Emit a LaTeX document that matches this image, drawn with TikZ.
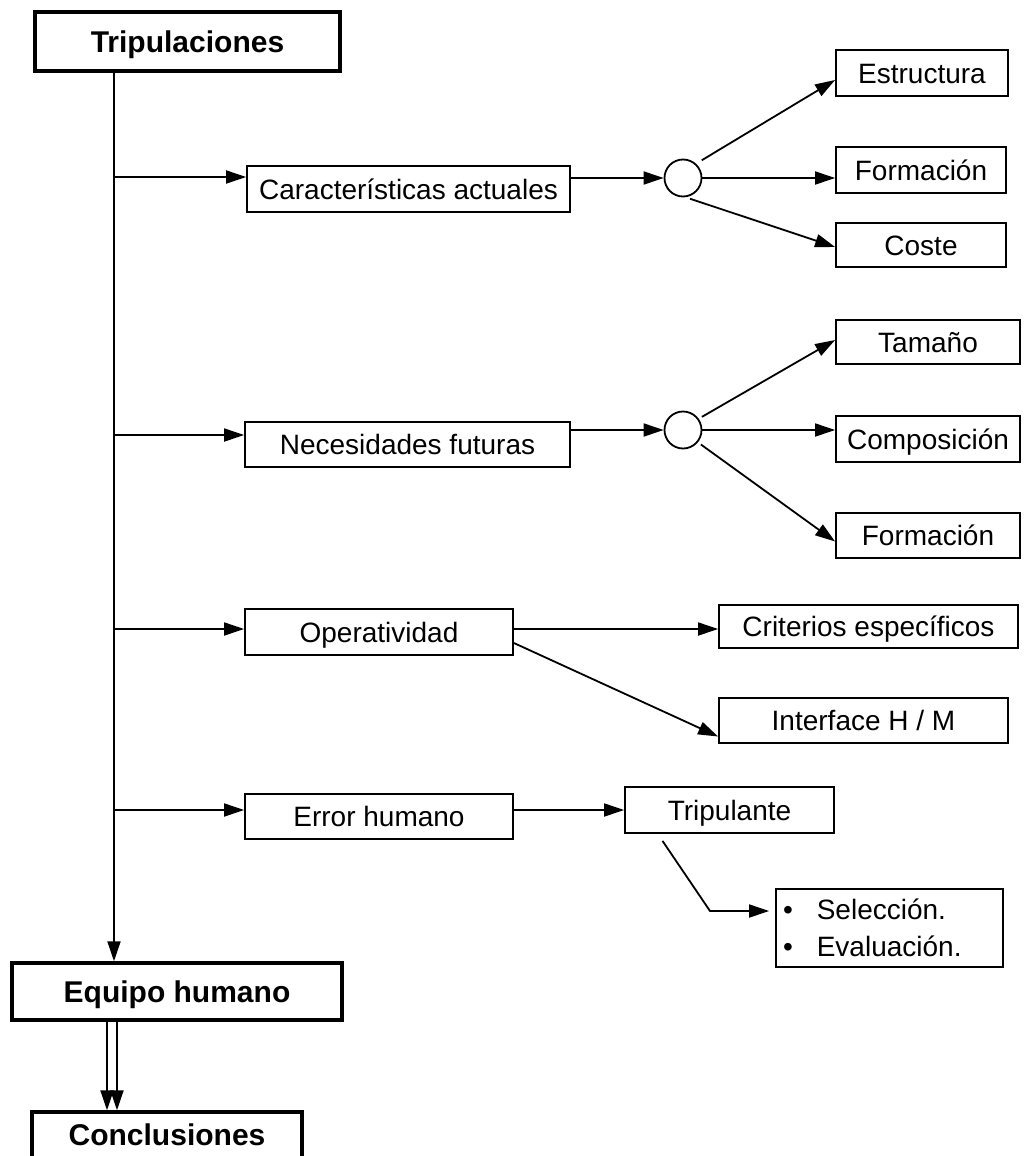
\documentclass[tikz,border=0pt]{standalone}
\usepackage{fontspec}
\setmainfont{Liberation Sans}
\usetikzlibrary{arrows.meta}
\begin{document}
\begin{tikzpicture}[x=1pt,y=-1pt,
  box/.style={draw, line width=1.8pt, inner sep=0pt, text height=20pt, text depth=0pt,
              font=\fontsize{28}{34}\selectfont},
  mainbox/.style={draw, line width=3.4pt, inner sep=0pt, text height=21.5pt, text depth=0pt,
              font=\fontsize{30}{36}\selectfont\bfseries},
  hub/.style={draw, circle, line width=1.8pt, minimum size=37pt, inner sep=0pt},
  link/.style={line width=1.8pt},
  arr/.style={link, -{Triangle[length=20pt,width=13pt]}}]
\useasboundingbox (0,0) rectangle (1025,1156);

% main column
\node[mainbox, minimum width=305pt, minimum height=59pt] (trip) at (187.5,41.5) {Tripulaciones};
\node[mainbox, minimum width=330pt, minimum height=57pt] (equ) at (177,991.5) {Equipo humano};
\node[mainbox, minimum width=270pt, minimum height=46pt] (con) at (167,1135) {Conclusiones};

% first-level topics
\node[box, minimum width=323pt, minimum height=46pt] (car) at (408.5,189) {Características actuales};
\node[box, minimum width=325pt, minimum height=45pt] (nec) at (407.5,444.5) {Necesidades futuras};
\node[box, minimum width=268pt, minimum height=46pt] (ope) at (379,632) {Operatividad};
\node[box, minimum width=268pt, minimum height=45pt] (err) at (379,816.5) {Error humano};

% junctions
\node[hub] (circ1) at (683,178) {};
\node[hub] (circ2) at (683,430) {};

% second-level topics
\node[box, minimum width=172pt, minimum height=46pt] (est) at (922,73) {Estructura};
\node[box, minimum width=170pt, minimum height=46pt] (for1) at (921,170) {Formación};
\node[box, minimum width=170pt, minimum height=44pt] (cos) at (921,245) {Coste};
\node[box, minimum width=184pt, minimum height=44pt] (tam) at (928,342) {Tamaño};
\node[box, minimum width=184pt, minimum height=46pt] (com) at (928,439) {Composición};
\node[box, minimum width=184pt, minimum height=45pt] (for2) at (928,535.5) {Formación};
\node[box, minimum width=299pt, minimum height=43pt] (cri) at (868.5,626.5) {Criterios específicos};
\node[box, minimum width=289pt, minimum height=45pt] (int) at (863.5,720.5) {Interface H / M};
\node[box, minimum width=209pt, minimum height=46pt] (tri) at (729.5,810) {Tripulante};
\node[draw, line width=1.8pt, inner sep=0pt, minimum height=78pt, text width=213pt,
      inner xsep=7pt, align=left, font=\fontsize{28}{37}\selectfont] (sel) at (889.5,928)
  {\textbullet\hspace{24pt}Selección.\\\textbullet\hspace{24pt}Evaluación.};

% spine and branches
\coordinate (spine) at (114,0);
\draw[arr] (spine |- trip.south) -- (spine |- equ.north);
\coordinate (b1) at (114,177);
\coordinate (b2) at (114,435);
\coordinate (b3) at (114,629);
\coordinate (b4) at (114,810);
\draw[arr] (b1) -- (b1 -| car.west);
\draw[arr] (b2) -- (b2 -| nec.west);
\draw[arr] (b3) -- (b3 -| ope.west);
\draw[arr] (b4) -- (b4 -| err.west);

% current characteristics
\draw[arr] (car.east |- circ1) -- (circ1.west);
\draw[arr] ([shift={(5pt,4pt)}]circ1.45) -- ([yshift=-7pt]est.west);
\draw[arr] (circ1.east) -- (circ1.east -| for1.west);
\draw[arr] ([shift={(2pt,-2pt)}]circ1.-75) -- ([yshift=-2pt]cos.west);

% future needs
\draw[arr] (nec.east |- circ2) -- (circ2.west);
\draw[arr] ([shift={(3pt,2pt)}]circ2.35) -- ([yshift=2pt]tam.west);
\draw[arr] (circ2.east) -- (circ2.east -| com.west);
\draw[arr] ([shift={(3pt,-2pt)}]circ2.-40) -- ([yshift=-6pt]for2.west);

% operativity
\draw[arr] (ope.east |- b3) -- (cri.west |- b3);
\draw[arr] ([yshift=-11pt]ope.east) -- ([yshift=-16pt]int.west);

% human error
\draw[arr] (err.east |- b4) -- (tri.west |- b4);
\coordinate (k1) at (710,911);
\draw[arr] ([shift={(-67pt,-7pt)}]tri.south) -- (k1) -- ([xshift=-6pt]k1 -| sel.west);

% human team to conclusions
\coordinate (d1) at (107,0);
\coordinate (d2) at (117,0);
\draw[arr] (d1 |- equ.south) -- (d1 |- con.north);
\draw[arr] (d2 |- equ.south) -- (d2 |- con.north);
\end{tikzpicture}
\end{document}
